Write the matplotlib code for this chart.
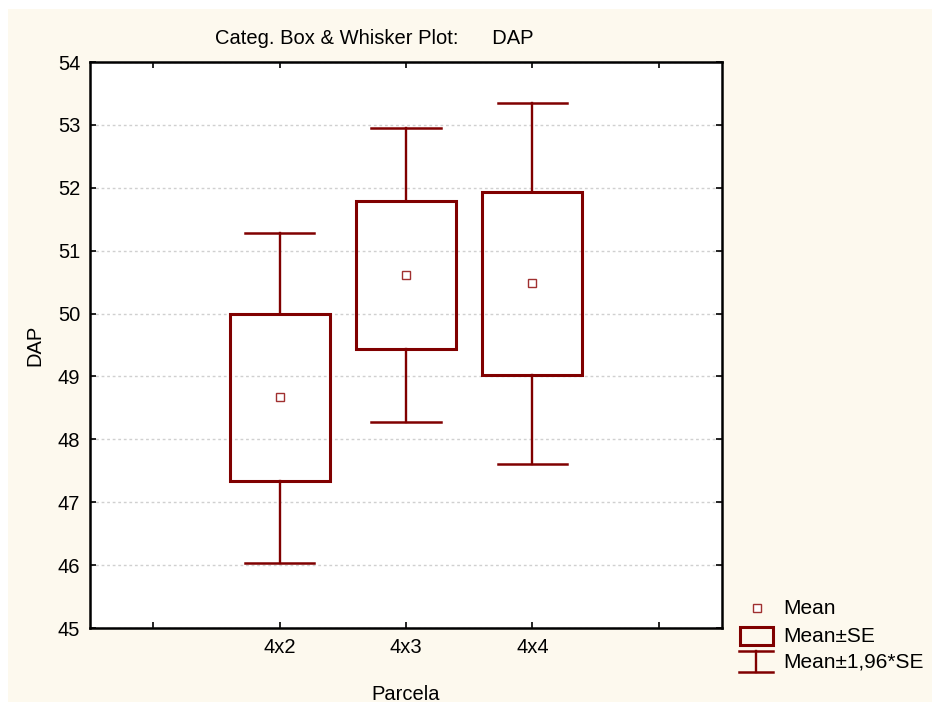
# Categorized box & whisker plot of DAP by parcela (mean, SE, 1.96*SE)
import numpy as np
import matplotlib
matplotlib.use("Agg")
import matplotlib.pyplot as plt
from matplotlib.patches import Rectangle

# data
groups = ["4x2", "4x3", "4x4"]
means = [48.67, 50.61, 50.48]
se = [1.33, 1.18, 1.46]
ci_low = [46.03, 48.28, 47.61]
ci_high = [51.28, 52.95, 53.35]
legend_labels = ["Mean", "Mean\u00b1SE", "Mean\u00b11,96*SE"]

dark_red = "#800000"
cream = "#fdf9ee"
plt.rcParams['font.family'] = ['Liberation Sans', 'DejaVu Sans']
fs = 14.5

fig = plt.figure(figsize=(9.32, 7.02), dpi=100, facecolor="white")
# cream background with a thin white band on top/left
fig.patches.append(Rectangle((8/932, 0), 1, 1 - 9/702, transform=fig.transFigure,
                             facecolor=cream, edgecolor="none", zorder=-10))

ax = fig.add_axes([90/932, 74/702, 632/932, 566/702])
ax.set_facecolor("white")

pos = np.arange(1, len(groups) + 1)
box_w = 0.79
cap_w = 0.55
for x, m, s, lo, hi in zip(pos, means, se, ci_low, ci_high):
    # whisker
    ax.plot([x, x], [lo, m - s], color=dark_red, lw=1.7, zorder=3)
    ax.plot([x, x], [m + s, hi], color=dark_red, lw=1.7, zorder=3)
    ax.plot([x - cap_w/2, x + cap_w/2], [lo, lo], color=dark_red, lw=1.8, zorder=3)
    ax.plot([x - cap_w/2, x + cap_w/2], [hi, hi], color=dark_red, lw=1.8, zorder=3)
    # box
    ax.add_patch(Rectangle((x - box_w/2, m - s), box_w, 2*s, facecolor="none",
                           edgecolor=dark_red, lw=2.2, zorder=4))
    # mean
    ax.plot(x, m, marker="s", ms=6, mfc="white", mec="#a03030", mew=1, zorder=5)

ax.set_xlim(-0.5, 4.5)
ax.set_ylim(45, 54)
ax.set_xticks(np.arange(0, 5))
ax.set_xticklabels([""] + groups + [""])
ax.set_yticks(np.arange(45, 55))
ax.yaxis.grid(True, color="#d0d0d0", linestyle=(0, (2, 2)), lw=1)
ax.set_axisbelow(True)
ax.tick_params(direction="in", length=4, width=1.2, top=True, right=True,
               labelsize=fs, colors="black", pad=7)
for sp in ax.spines.values():
    sp.set_linewidth(1.8)

ax.set_xlabel("Parcela", fontsize=fs, labelpad=20)
ax.set_ylabel("DAP", fontsize=fs, labelpad=10)
ax.set_title("Categ. Box & Whisker Plot:      DAP", fontsize=fs, pad=13, x=0.449)

# legend drawn in pixel coordinates of the figure
lg = fig.add_axes([0, 0, 1, 1], facecolor="none")
lg.set_xlim(0, 932)
lg.set_ylim(702, 0)
lg.axis("off")
lg.plot(757, 608, marker="s", ms=6, mfc="white", mec="#a03030", mew=1)
lg.add_patch(Rectangle((740, 627), 33, 18, facecolor="none", edgecolor=dark_red, lw=2.2))
lg.plot([739, 773], [651, 651], color=dark_red, lw=1.8)
lg.plot([739, 773], [672, 672], color=dark_red, lw=1.8)
lg.plot([756, 756], [651, 672], color=dark_red, lw=1.7)
for y, t in zip([608, 636, 662], legend_labels):
    lg.text(783, y, t, fontsize=fs + 0.5, va="center", ha="left")

fig.savefig("out.png", dpi=100, facecolor=fig.get_facecolor())
